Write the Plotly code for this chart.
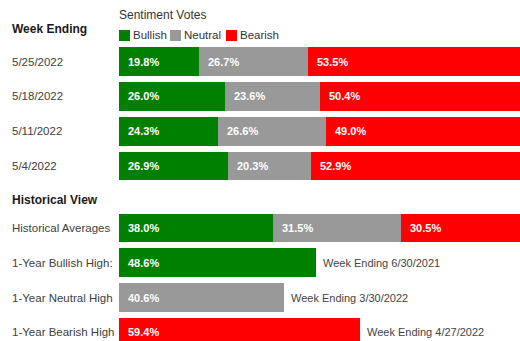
import plotly.graph_objects as go

# Weekly sentiment survey results
weeks = ["5/25/2022", "5/18/2022", "5/11/2022", "5/4/2022"]
bullish = [19.8, 26.0, 24.3, 26.9]
neutral = [26.7, 23.6, 26.6, 20.3]
bearish = [53.5, 50.4, 49.0, 52.9]

# Historical view
hist_labels = ["Historical Averages", "1-Year Bullish High:", "1-Year Neutral High", "1-Year Bearish High"]
hist_bullish = [38.0, 48.6, None, None]
hist_neutral = [31.5, None, 40.6, None]
hist_bearish = [30.5, None, None, 59.4]
high_dates = [None, "6/30/2021", "3/30/2022", "4/27/2022"]

series_names = ["Bullish", "Neutral", "Bearish"]
colors = ["#008000", "#999999", "#ff0000"]

W, H = 520, 341
L = 119
FONT = "Liberation Sans, Arial, sans-serif"


def px_x(p):
    return (p - L) / (W - L)


def px_y(p):
    return 1 - p / H


fig = go.Figure()

top = [bullish, neutral, bearish]
bottom = [hist_bullish, hist_neutral, hist_bearish]

for name, col, vals in zip(series_names, colors, top):
    fig.add_trace(go.Bar(y=weeks, x=vals, orientation="h", name=name,
                         marker=dict(color=col, line=dict(width=0)),
                         xaxis="x", yaxis="y", showlegend=False, hoverinfo="skip"))
for name, col, vals in zip(series_names, colors, bottom):
    fig.add_trace(go.Bar(y=hist_labels, x=vals, orientation="h", name=name,
                         marker=dict(color=col, line=dict(width=0)),
                         xaxis="x2", yaxis="y2", showlegend=False, hoverinfo="skip"))

annotations = []


def value_labels(cats, groups, yref):
    for i, cat in enumerate(cats):
        base = 0.0
        for vals in groups:
            v = vals[i]
            if v is None:
                continue
            annotations.append(dict(x=base, y=cat, xref=yref.replace("y", "x"), yref=yref,
                                    text=f"<b>{v:.1f}%</b>", showarrow=False,
                                    xanchor="left", yanchor="middle", xshift=7,
                                    font=dict(family=FONT, size=11, color="#ffffff")))
            base += v


value_labels(weeks, top, "y")
value_labels(hist_labels, bottom, "y2")

# Dates of the one-year highs, placed after each bar
for i, cat in enumerate(hist_labels):
    if high_dates[i] is None:
        continue
    total = sum(g[i] for g in bottom if g[i] is not None)
    annotations.append(dict(x=total, y=cat, xref="x2", yref="y2",
                            text=f"Week Ending {high_dates[i]}", showarrow=False,
                            xanchor="left", yanchor="middle", xshift=5,
                            font=dict(family=FONT, size=11, color="#444444")))

# Row labels on the left, left aligned
LABEL_X = px_x(10)
for cat in weeks:
    annotations.append(dict(x=LABEL_X, y=cat, xref="paper", yref="y", text=cat,
                            showarrow=False, xanchor="left", yanchor="middle",
                            font=dict(family=FONT, size=11.5, color="#404040")))
for cat in hist_labels:
    annotations.append(dict(x=LABEL_X, y=cat, xref="paper", yref="y2", text=cat,
                            showarrow=False, xanchor="left", yanchor="middle",
                            font=dict(family=FONT, size=11.5, color="#404040")))

# Section headers
annotations.append(dict(x=LABEL_X, y=px_y(29), xref="paper", yref="paper",
                        text="<b>Week Ending</b>", showarrow=False, xanchor="left",
                        yanchor="middle", font=dict(family=FONT, size=12, color="#1a1a1a")))
annotations.append(dict(x=LABEL_X, y=px_y(199.5), xref="paper", yref="paper",
                        text="<b>Historical View</b>", showarrow=False, xanchor="left",
                        yanchor="middle", font=dict(family=FONT, size=12, color="#1a1a1a")))
annotations.append(dict(x=px_x(117), y=px_y(15.5), xref="paper", yref="paper",
                        text="Sentiment Votes", showarrow=False, xanchor="left",
                        yanchor="middle", font=dict(family=FONT, size=12, color="#333333")))

# Legend row: colored squares followed by series names
shapes = []
legend_x = [119, 170, 226]
for name, col, x0 in zip(series_names, colors, legend_x):
    shapes.append(dict(type="rect", xref="paper", yref="paper",
                       x0=px_x(x0), x1=px_x(x0 + 11), y0=px_y(41), y1=px_y(30),
                       fillcolor=col, line=dict(width=0)))
    annotations.append(dict(x=px_x(x0 + 12), y=px_y(35), xref="paper", yref="paper",
                            text=name, showarrow=False, xanchor="left", yanchor="middle",
                            font=dict(family=FONT, size=11.5, color="#333333")))

pitch = 34.8
top_lo, top_hi = 61.5 - pitch / 2, 166 + pitch / 2
bot_hi = 228 - pitch / 2
bot_range_end = -0.5 + (H - bot_hi) / pitch

xr = [0, (W - L) / 4.06]
axis_common = dict(showgrid=False, zeroline=False, showticklabels=False, ticks="",
                   showline=False, fixedrange=True)

fig.update_layout(
    width=W, height=H,
    margin=dict(l=L, r=0, t=0, b=0),
    paper_bgcolor="white", plot_bgcolor="white",
    barmode="stack", bargap=0.17,
    showlegend=False,
    xaxis=dict(domain=[0, 1], range=xr, anchor="y", **axis_common),
    yaxis=dict(domain=[px_y(top_hi), px_y(top_lo)], range=[3.5, -0.5],
               type="category", categoryorder="array", categoryarray=weeks,
               anchor="x", **axis_common),
    xaxis2=dict(domain=[0, 1], range=xr, anchor="y2", **axis_common),
    yaxis2=dict(domain=[0, px_y(bot_hi)], range=[bot_range_end, -0.5],
                type="category", categoryorder="array", categoryarray=hist_labels,
                anchor="x2", **axis_common),
    annotations=annotations,
    shapes=shapes,
)

fig.write_html("out.html")
